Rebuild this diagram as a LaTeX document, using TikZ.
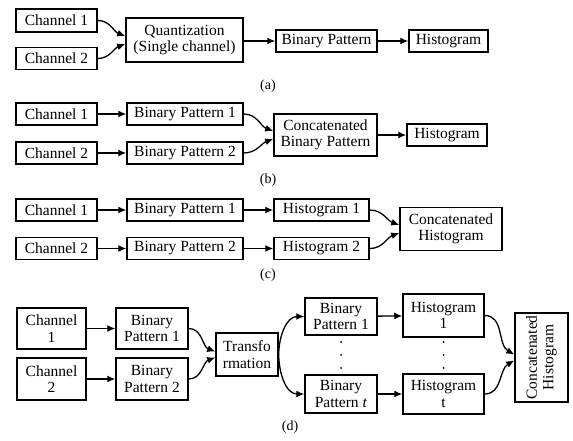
\documentclass[tikz,border=0pt]{standalone}
\usepackage{fontspec}
\setmainfont{Liberation Serif}
\usetikzlibrary{arrows.meta}

\begin{document}
\begin{tikzpicture}[x=1pt,y=-1pt,
        box/.style={draw,line width=1.5pt,inner sep=0pt,align=center,
                font=\fontsize{15.5}{16.5}\selectfont},
        arr/.style={line width=1.3pt,-{Latex[length=8pt,width=7pt]}},
        caption/.style={font=\fontsize{14}{15}\selectfont}]
        \useasboundingbox (0,0) rectangle (573,441);

        \node[box,minimum width=81,minimum height=23] (ch1a) at (56.5,20.5) {Channel 1};
        \node[box,minimum width=81,minimum height=22] (ch2a) at (56.5,58.5) {Channel 2};
        \node[box,minimum width=117,minimum height=44] (quant) at (184.5,40) {Quantization\\(Single channel)};
        \node[box,minimum width=101,minimum height=22] (bpa) at (326.5,41) {Binary Pattern};
        \node[box,minimum width=79,minimum height=22] (hista) at (448.5,41) {Histogram};
        \node[caption] (capa) at (268,86) {(a)};

        \draw[arr] (ch1a.east) to[out=0,in=160] ([yshift=4pt]quant.west);
        \draw[arr] (ch2a.east) to[out=0,in=200] ([yshift=-4pt]quant.west);
        \draw[arr] (quant.east |- bpa.west) -- (bpa.west);
        \draw[arr] (bpa.east) -- (hista.west);

        \node[box,minimum width=81,minimum height=22] (ch1b) at (56.5,114) {Channel 1};
        \node[box,minimum width=81,minimum height=22] (ch2b) at (56.5,153) {Channel 2};
        \node[box,minimum width=116,minimum height=22] (bp1b) at (185,114) {Binary Pattern 1};
        \node[box,minimum width=116,minimum height=22] (bp2b) at (185,153) {Binary Pattern 2};
        \node[box,minimum width=103,minimum height=42] (cbp) at (325.5,135) {Concatenated\\Binary Pattern};
        \node[box,minimum width=80,minimum height=22] (histb) at (447,135) {Histogram};
        \node[caption] (capb) at (268,180) {(b)};

        \draw[arr] (ch1b) -- (bp1b);
        \draw[arr] (ch2b) -- (bp2b);
        \draw[arr] (bp1b.east) to[out=0,in=160] ([yshift=4pt]cbp.west);
        \draw[arr] (bp2b.east) to[out=0,in=200] ([yshift=-4pt]cbp.west);
        \draw[arr] (cbp) -- (histb);

        \node[box,minimum width=81,minimum height=22] (ch1c) at (56.5,210) {Channel 1};
        \node[box,minimum width=81,minimum height=22] (ch2c) at (56.5,248.5) {Channel 2};
        \node[box,minimum width=116,minimum height=22] (bp1c) at (185,210) {Binary Pattern 1};
        \node[box,minimum width=116,minimum height=22] (bp2c) at (185,248.5) {Binary Pattern 2};
        \node[box,minimum width=95,minimum height=22] (h1c) at (321.5,210) {Histogram 1};
        \node[box,minimum width=95,minimum height=22] (h2c) at (321.5,248.5) {Histogram 2};
        \node[box,minimum width=102,minimum height=43] (chc) at (451,229) {Concatenated\\Histogram};
        \node[caption] (capc) at (268,275) {(c)};

        \draw[arr] (ch1c) -- (bp1c);
        \draw[arr] (ch2c) -- (bp2c);
        \draw[arr] (bp1c) -- (h1c);
        \draw[arr] (bp2c) -- (h2c);
        \draw[arr] (h1c.east) to[out=0,in=160] ([yshift=4pt]chc.west);
        \draw[arr] (h2c.east) to[out=0,in=200] ([yshift=-4pt]chc.west);

        \node[box,minimum width=69,minimum height=41] (ch1d) at (51.5,328.5) {Channel\\1};
        \node[box,minimum width=69,minimum height=42] (ch2d) at (51.5,379) {Channel\\2};
        \node[box,minimum width=72,minimum height=41] (bp1d) at (152,328.5) {Binary\\Pattern 1};
        \node[box,minimum width=72,minimum height=42] (bp2d) at (152,379) {Binary\\Pattern 2};
        \node[box,minimum width=62,minimum height=43] (trans) at (247,354.5) {Transfo\\rmation};
        \node[box,minimum width=72,minimum height=37] (bp1r) at (341,316.5) {Binary\\Pattern 1};
        \node[box,minimum width=72,minimum height=38] (bptr) at (341,394) {Binary\\Pattern \textit{t}};
        \node[box,minimum width=81,minimum height=43] (h1r) at (443.5,315.5) {Histogram\\1};
        \node[box,minimum width=81,minimum height=40] (htr) at (443.5,394) {Histogram\\t};
        \node[box,minimum width=89,minimum height=53,rotate=90] (chd) at (541.5,357.5) {Concatenated\\Histogram};
        \node[caption] (capd) at (290,427) {(d)};

        \fill (341,342) circle (1pt) (341,355) circle (1pt) (341,368) circle (1pt);
        \fill (443.5,342) circle (1pt) (443.5,355) circle (1pt) (443.5,368) circle (1pt);

        \draw[arr] (ch1d) -- (bp1d);
        \draw[arr] (ch2d) -- (bp2d);
        \draw[arr] (bp1d.east) to[out=0,in=160] ([yshift=3pt]trans.west);
        \draw[arr] (bp2d.east) to[out=0,in=200] ([yshift=-3pt]trans.west);
        \draw[arr] (trans.east) to[out=90,in=180] (bp1r.west);
        \draw[arr] (trans.east) to[out=-90,in=180] (bptr.west);
        \draw[arr] (bp1r) -- (h1r);
        \draw[arr] (bptr) -- (htr);
        \draw[arr] (h1r.east) to[out=0,in=150] ([yshift=3pt]chd.north);
        \draw[arr] (htr.east) to[out=0,in=210] ([yshift=-3pt]chd.north);
\end{tikzpicture}
\end{document}
